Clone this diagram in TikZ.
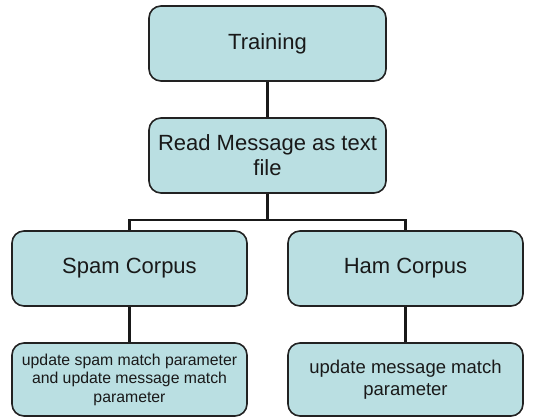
\documentclass[tikz,border=0pt]{standalone}
\usepackage{fontspec}
\setmainfont{Liberation Sans}
\usepackage{tikz}
\usetikzlibrary{positioning,calc}
\usepackage{xcolor}
\definecolor{boxfill}{RGB}{186,223,226}
\definecolor{boxline}{RGB}{34,34,34}

\begin{document}
\begin{tikzpicture}[x=1pt, y=-1pt,
    stage/.style={draw=boxline, line width=1.6pt, fill=boxfill, rounded corners=12pt,
      align=center, inner sep=2pt, text=black!90, font=\fontsize{22}{25}\selectfont},
    link/.style={line width=2.8pt, draw=black!90}]
  % Frame of the picture
  \useasboundingbox (0,0) rectangle (540,417);
  % Top of the tree
  \node[stage, minimum width=237pt, minimum height=75pt] (train) at (267.5,43.5) {Training};
  \node[stage, minimum width=237pt, minimum height=75pt] (read) at (267.5,155.5)
    {Read Message as text\\file};
  % The two corpora
  \node[stage, minimum width=235pt, minimum height=75pt] (spam) at (129.5,268.5) {Spam Corpus};
  \node[stage, minimum width=235pt, minimum height=75pt] (ham) at (405.5,268.5) {Ham Corpus};
  % Updates
  \node[stage, minimum width=235pt, minimum height=73pt, font=\fontsize{15.8}{18.5}\selectfont]
    (spamupd) at (129.5,379.5)
    {update spam match parameter\\and update message match\\parameter};
  \node[stage, minimum width=235pt, minimum height=73pt, font=\fontsize{18.5}{22}\selectfont]
    (hamupd) at (405.5,379.5)
    {update message match\\parameter};
  % Connectors
  \coordinate (fork) at (267.5,220);
  \draw[link] (train) -- (read);
  \draw[link] (read) -- (fork);
  \draw[link] (spam.north) |- (fork) -| (ham.north);
  \draw[link] (spam) -- (spamupd);
  \draw[link] (ham) -- (hamupd);
\end{tikzpicture}
\end{document}
